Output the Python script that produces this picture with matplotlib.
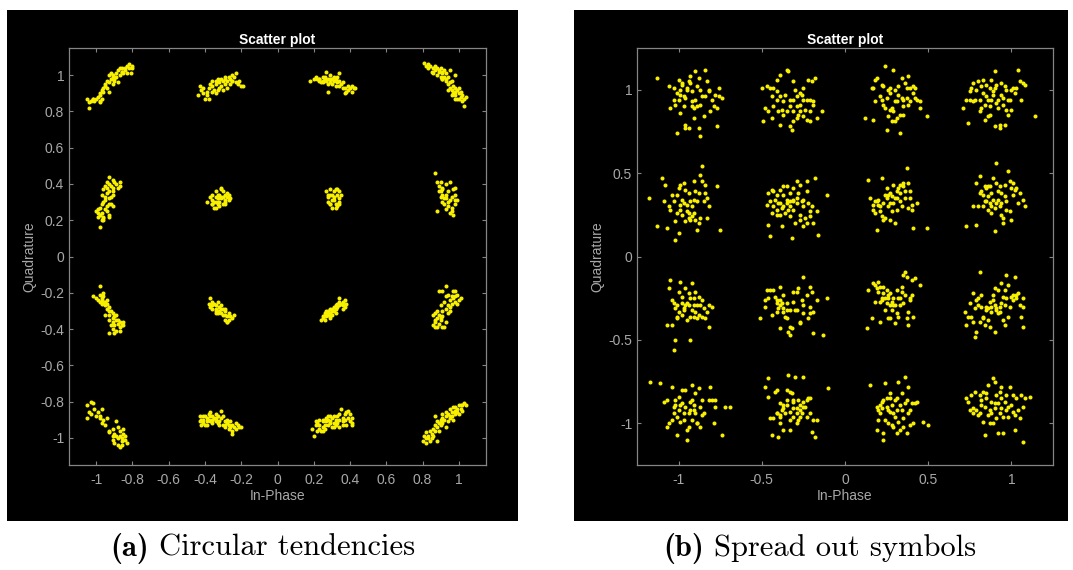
import numpy as np
import matplotlib.pyplot as plt
from matplotlib.patches import Rectangle
from matplotlib.offsetbox import TextArea, HPacker, AnchoredOffsetbox

plt.rcParams['font.family'] = ['Liberation Sans', 'DejaVu Sans']
plt.rcParams['axes.unicode_minus'] = False

# panel (a) "circular tendencies": received symbols, (In-Phase, Quadrature), one list per row
a_row1 = [
    # around (-1, 1)
    (-1.04, 0.82), (-1.05, 0.87), (-1.03, 0.86), (-1.02, 0.87), (-1.01, 0.86), (-0.99, 0.88), (-0.98, 0.86),
    (-0.98, 0.89), (-0.97, 0.87), (-0.98, 0.90), (-0.97, 0.92), (-0.96, 0.91), (-0.95, 0.94), (-0.94, 0.93),
    (-0.93, 0.96), (-0.93, 0.91), (-0.92, 0.98), (-0.91, 0.95), (-0.91, 0.99), (-0.90, 0.98), (-0.90, 0.97),
    (-0.89, 1.01), (-0.89, 0.99), (-0.88, 0.96), (-0.87, 1.00), (-0.87, 1.04), (-0.86, 1.02), (-0.86, 1.04),
    (-0.85, 1.01), (-0.84, 1.04), (-0.84, 1.03), (-0.83, 1.05), (-0.82, 1.06), (-0.82, 1.04), (-0.81, 1.01),
    (-0.80, 1.05), (-0.80, 1.04), (-0.93, 1.00), (-0.94, 0.97), (-0.95, 0.95), (-1.00, 0.87), (-1.02, 0.87),
    (-1.04, 0.85), (-0.98, 0.85), (-0.96, 0.93), (-0.92, 1.01), (-0.91, 1.00), (-0.88, 1.03), (-0.86, 1.02),
    (-0.83, 1.01),
    # around (-0.3, 1)
    (-0.44, 0.89), (-0.43, 0.94), (-0.42, 0.92), (-0.41, 0.93), (-0.40, 0.87), (-0.39, 0.91), (-0.38, 0.87),
    (-0.38, 0.93), (-0.37, 0.95), (-0.36, 0.91), (-0.36, 0.94), (-0.35, 0.92), (-0.34, 0.97), (-0.34, 0.95),
    (-0.33, 0.92), (-0.33, 0.98), (-0.32, 0.96), (-0.31, 0.98), (-0.31, 0.94), (-0.30, 0.97), (-0.30, 0.92),
    (-0.29, 0.99), (-0.29, 0.95), (-0.29, 0.98), (-0.28, 0.97), (-0.27, 0.99), (-0.26, 0.95), (-0.26, 0.98),
    (-0.25, 1.00), (-0.25, 0.97), (-0.24, 0.99), (-0.23, 1.01), (-0.23, 0.96), (-0.22, 0.95), (-0.21, 0.97),
    (-0.20, 0.94), (-0.19, 0.94), (-0.41, 0.90), (-0.39, 0.89), (-0.36, 0.97), (-0.28, 0.93), (-0.25, 0.97),
    (-0.34, 0.90), (-0.32, 0.93),
    # around (0.3, 1)
    (0.18, 0.97), (0.20, 0.98), (0.22, 0.98), (0.23, 0.97), (0.23, 0.98), (0.24, 0.96), (0.25, 0.99),
    (0.25, 0.97), (0.26, 0.98), (0.26, 0.99), (0.27, 1.02), (0.27, 0.97), (0.28, 0.91), (0.28, 0.98),
    (0.29, 1.00), (0.29, 0.96), (0.29, 0.98), (0.30, 0.98), (0.30, 0.95), (0.31, 0.99), (0.31, 0.97),
    (0.32, 0.94), (0.32, 0.98), (0.33, 0.96), (0.33, 0.99), (0.34, 0.94), (0.34, 1.01), (0.34, 0.97),
    (0.35, 0.95), (0.36, 0.93), (0.36, 0.96), (0.37, 0.90), (0.37, 0.93), (0.38, 0.91), (0.39, 0.94),
    (0.39, 0.92), (0.40, 0.93), (0.41, 0.91), (0.41, 0.94), (0.42, 0.93), (0.43, 0.93), (0.25, 0.96),
    (0.28, 0.95), (0.30, 0.98), (0.26, 0.98), (0.23, 0.98), (0.21, 0.99),
    # around (1, 1)
    (0.81, 1.07), (0.82, 1.05), (0.83, 1.06), (0.83, 1.04), (0.84, 1.05), (0.85, 1.02), (0.86, 1.04),
    (0.86, 1.01), (0.87, 1.05), (0.87, 1.03), (0.88, 1.04), (0.88, 1.00), (0.89, 1.03), (0.89, 1.02),
    (0.90, 0.99), (0.90, 1.04), (0.91, 1.01), (0.91, 0.98), (0.91, 1.02), (0.92, 0.99), (0.93, 0.97),
    (0.93, 1.01), (0.93, 0.98), (0.94, 0.95), (0.94, 0.99), (0.95, 0.96), (0.95, 0.93), (0.96, 0.97),
    (0.96, 0.92), (0.97, 0.94), (0.97, 0.90), (0.98, 1.00), (0.98, 0.93), (0.98, 0.89), (0.98, 0.91),
    (0.99, 0.87), (0.99, 0.92), (1.00, 0.87), (1.00, 0.90), (1.01, 0.88), (1.01, 0.91), (1.02, 0.86),
    (1.02, 0.89), (1.03, 0.83), (1.03, 0.87), (1.04, 0.88), (0.95, 1.03), (0.92, 1.03), (0.96, 0.89),
    (0.98, 0.87), (1.00, 0.93), (0.94, 0.92), (0.91, 0.98),
]
a_row2 = [
    (-0.98, 0.16), (-0.99, 0.24), (-1.00, 0.25), (-0.99, 0.22), (-0.98, 0.27), (-0.97, 0.29), (-0.97, 0.24),
    (-0.96, 0.21), (-0.96, 0.20), (-0.95, 0.26), (-0.96, 0.30), (-0.95, 0.31), (-0.94, 0.28), (-0.94, 0.25),
    (-0.93, 0.23), (-0.93, 0.29), (-0.93, 0.22), (-0.92, 0.29), (-0.91, 0.28), (-0.91, 0.34), (-0.97, 0.34),
    (-0.96, 0.37), (-0.95, 0.39), (-0.94, 0.38), (-0.94, 0.35), (-0.93, 0.40), (-0.93, 0.44), (-0.93, 0.36),
    (-0.92, 0.39), (-0.91, 0.36), (-0.91, 0.42), (-0.91, 0.38), (-0.90, 0.41), (-0.89, 0.40), (-0.88, 0.38),
    (-0.87, 0.41), (-0.87, 0.39), (-0.95, 0.33), (-0.98, 0.23), (-0.99, 0.26), (-0.93, 0.32), (-0.92, 0.33),
    (-0.94, 0.41), (-0.96, 0.22), (-0.97, 0.20),
    (-0.39, 0.30), (-0.37, 0.33), (-0.36, 0.29), (-0.36, 0.34), (-0.36, 0.31), (-0.35, 0.27), (-0.34, 0.33),
    (-0.34, 0.30), (-0.34, 0.36), (-0.33, 0.29), (-0.33, 0.32), (-0.32, 0.34), (-0.32, 0.30), (-0.31, 0.37),
    (-0.31, 0.33), (-0.30, 0.29), (-0.30, 0.36), (-0.29, 0.31), (-0.29, 0.34), (-0.29, 0.30), (-0.28, 0.33),
    (-0.28, 0.35), (-0.27, 0.31), (-0.27, 0.34), (-0.26, 0.32), (-0.34, 0.27), (-0.32, 0.28), (-0.31, 0.38),
    (-0.33, 0.34), (-0.35, 0.30), (-0.29, 0.29), (-0.31, 0.32), (-0.36, 0.29), (-0.30, 0.33), (-0.33, 0.30),
    (0.27, 0.36), (0.28, 0.33), (0.28, 0.30), (0.29, 0.37), (0.29, 0.29), (0.29, 0.34), (0.30, 0.31),
    (0.30, 0.27), (0.31, 0.36), (0.31, 0.33), (0.32, 0.29), (0.32, 0.37), (0.33, 0.34), (0.33, 0.28),
    (0.34, 0.32), (0.34, 0.36), (0.34, 0.30), (0.35, 0.34), (0.32, 0.27), (0.30, 0.34), (0.31, 0.31),
    (0.33, 0.37), (0.28, 0.34), (0.29, 0.29), (0.34, 0.29),
    (0.87, 0.46), (0.88, 0.25), (0.88, 0.41), (0.89, 0.39), (0.89, 0.36), (0.90, 0.33), (0.90, 0.41),
    (0.91, 0.30), (0.91, 0.37), (0.91, 0.34), (0.92, 0.29), (0.93, 0.40), (0.93, 0.32), (0.93, 0.26),
    (0.94, 0.36), (0.94, 0.30), (0.95, 0.41), (0.95, 0.24), (0.96, 0.33), (0.96, 0.27), (0.97, 0.37),
    (0.97, 0.23), (0.98, 0.31), (0.98, 0.34), (0.98, 0.29), (0.99, 0.31), (0.93, 0.34), (0.91, 0.38),
    (0.94, 0.28), (0.96, 0.25), (0.98, 0.38), (0.95, 0.31), (0.90, 0.36), (0.92, 0.32),
]
a_row3 = [
    (-1.02, -0.22), (-1.00, -0.23), (-0.99, -0.24), (-0.98, -0.21), (-0.98, -0.16), (-0.98, -0.25), (-0.97, -0.23),
    (-0.97, -0.26), (-0.96, -0.20), (-0.96, -0.22), (-0.95, -0.27), (-0.95, -0.25), (-0.94, -0.29), (-0.94, -0.26),
    (-0.93, -0.30), (-0.93, -0.28), (-0.93, -0.32), (-0.92, -0.30), (-0.91, -0.31), (-0.91, -0.34), (-0.91, -0.36),
    (-0.90, -0.33), (-0.90, -0.38), (-0.89, -0.35), (-0.89, -0.41), (-0.88, -0.37), (-0.88, -0.35), (-0.87, -0.39),
    (-0.87, -0.41), (-0.87, -0.36), (-0.86, -0.38), (-0.85, -0.36), (-0.85, -0.38), (-0.93, -0.42), (-0.90, -0.42),
    (-0.91, -0.40), (-0.93, -0.35), (-0.95, -0.32), (-0.96, -0.25), (-0.94, -0.24), (-0.97, -0.24), (-0.92, -0.38),
    (-0.89, -0.32),
    (-0.38, -0.26), (-0.37, -0.23), (-0.37, -0.28), (-0.36, -0.25), (-0.36, -0.29), (-0.35, -0.26), (-0.34, -0.30),
    (-0.34, -0.27), (-0.34, -0.29), (-0.33, -0.25), (-0.33, -0.31), (-0.32, -0.28), (-0.32, -0.30), (-0.31, -0.27),
    (-0.31, -0.31), (-0.30, -0.29), (-0.30, -0.32), (-0.29, -0.30), (-0.29, -0.35), (-0.29, -0.32), (-0.28, -0.36),
    (-0.28, -0.33), (-0.27, -0.35), (-0.27, -0.31), (-0.26, -0.33), (-0.25, -0.34), (-0.24, -0.32), (-0.31, -0.29),
    (-0.33, -0.30), (-0.36, -0.27), (-0.29, -0.29), (-0.28, -0.36), (-0.34, -0.31),
    (0.24, -0.35), (0.25, -0.34), (0.25, -0.33), (0.26, -0.35), (0.26, -0.31), (0.27, -0.33), (0.27, -0.30),
    (0.28, -0.32), (0.28, -0.31), (0.29, -0.34), (0.29, -0.29), (0.29, -0.31), (0.30, -0.30), (0.30, -0.32),
    (0.31, -0.28), (0.31, -0.30), (0.32, -0.27), (0.32, -0.29), (0.33, -0.26), (0.33, -0.28), (0.34, -0.25),
    (0.34, -0.27), (0.34, -0.23), (0.35, -0.26), (0.36, -0.25), (0.36, -0.29), (0.36, -0.27), (0.37, -0.24),
    (0.37, -0.28), (0.38, -0.26), (0.28, -0.30), (0.30, -0.29), (0.26, -0.32), (0.32, -0.31), (0.29, -0.33),
    (0.86, -0.38), (0.86, -0.32), (0.87, -0.36), (0.87, -0.31), (0.87, -0.39), (0.88, -0.34), (0.88, -0.30),
    (0.89, -0.37), (0.89, -0.32), (0.90, -0.35), (0.90, -0.27), (0.91, -0.39), (0.91, -0.30), (0.91, -0.33),
    (0.92, -0.25), (0.93, -0.29), (0.93, -0.36), (0.93, -0.22), (0.94, -0.27), (0.94, -0.21), (0.95, -0.24),
    (0.95, -0.30), (0.96, -0.22), (0.96, -0.26), (0.97, -0.19), (0.97, -0.23), (0.98, -0.25), (0.98, -0.19),
    (0.98, -0.22), (0.99, -0.26), (0.99, -0.21), (1.00, -0.24), (1.01, -0.23), (0.89, -0.19), (0.93, -0.16),
    (0.91, -0.19), (0.95, -0.28), (0.90, -0.34), (0.87, -0.35), (0.94, -0.31), (0.92, -0.39), (0.88, -0.39),
]
a_row4 = [
    (-1.05, -0.89), (-1.05, -0.82), (-1.04, -0.86), (-1.03, -0.80), (-1.03, -0.87), (-1.02, -0.81), (-1.01, -0.84),
    (-1.00, -0.88), (-0.99, -0.86), (-0.98, -0.88), (-0.98, -0.89), (-0.97, -0.84), (-0.97, -0.92), (-0.96, -0.90),
    (-0.95, -0.93), (-0.94, -0.89), (-0.93, -0.96), (-0.93, -0.97), (-0.91, -0.99), (-0.91, -0.95), (-0.91, -1.01),
    (-0.90, -0.98), (-0.90, -1.03), (-0.89, -0.91), (-0.89, -0.99), (-0.88, -0.94), (-0.88, -1.04), (-0.87, -0.99),
    (-0.87, -0.96), (-0.87, -1.05), (-0.86, -1.00), (-0.86, -1.02), (-0.85, -0.98), (-0.85, -0.95), (-0.84, -1.01),
    (-0.84, -0.99), (-0.83, -1.03), (-0.86, -1.04), (-0.88, -1.00),
    (-0.43, -0.91), (-0.43, -0.88), (-0.42, -0.93), (-0.42, -0.90), (-0.41, -0.88), (-0.41, -0.92), (-0.41, -0.90),
    (-0.40, -0.88), (-0.40, -0.93), (-0.39, -0.89), (-0.39, -0.91), (-0.38, -0.87), (-0.38, -0.90), (-0.37, -0.88),
    (-0.37, -0.86), (-0.36, -0.90), (-0.36, -0.88), (-0.36, -0.92), (-0.35, -0.89), (-0.34, -0.91), (-0.34, -0.87),
    (-0.34, -0.89), (-0.33, -0.92), (-0.33, -0.88), (-0.32, -0.93), (-0.32, -0.91), (-0.31, -0.85), (-0.31, -0.89),
    (-0.30, -0.93), (-0.30, -0.88), (-0.29, -0.94), (-0.29, -0.91), (-0.29, -0.93), (-0.28, -0.90), (-0.28, -0.92),
    (-0.27, -0.95), (-0.27, -0.93), (-0.26, -0.91), (-0.26, -0.94), (-0.25, -0.93), (-0.25, -0.96), (-0.25, -0.98),
    (-0.24, -0.94), (-0.23, -0.92), (-0.23, -0.95), (-0.22, -0.93), (-0.21, -0.94), (-0.20, -0.94), (-0.39, -0.93),
    (-0.37, -0.91), (-0.34, -0.90),
    (0.19, -0.95), (0.20, -0.99), (0.21, -0.91), (0.21, -0.93), (0.22, -0.96), (0.22, -0.92), (0.23, -0.95),
    (0.23, -0.90), (0.23, -0.93), (0.24, -0.96), (0.25, -0.91), (0.25, -0.94), (0.25, -0.90), (0.26, -0.93),
    (0.26, -0.95), (0.27, -0.91), (0.27, -0.89), (0.28, -0.93), (0.28, -0.90), (0.29, -0.92), (0.29, -0.88),
    (0.29, -0.91), (0.30, -0.94), (0.30, -0.89), (0.31, -0.92), (0.31, -0.88), (0.32, -0.93), (0.32, -0.90),
    (0.33, -0.88), (0.33, -0.92), (0.34, -0.90), (0.34, -0.94), (0.34, -0.87), (0.35, -0.84), (0.36, -0.91),
    (0.36, -0.89), (0.36, -0.93), (0.37, -0.87), (0.37, -0.90), (0.38, -0.86), (0.38, -0.93), (0.39, -0.89),
    (0.39, -0.85), (0.40, -0.91), (0.40, -0.87), (0.41, -0.93), (0.41, -0.89), (0.41, -0.92), (0.25, -0.96),
    (0.28, -0.88), (0.31, -0.94),
    (0.80, -1.02), (0.81, -0.99), (0.82, -0.97), (0.82, -1.03), (0.83, -1.00), (0.83, -0.99), (0.84, -0.96),
    (0.85, -1.00), (0.85, -0.98), (0.86, -0.95), (0.86, -0.99), (0.87, -0.93), (0.87, -0.96), (0.87, -0.88),
    (0.88, -0.94), (0.88, -1.02), (0.89, -0.92), (0.89, -0.96), (0.90, -0.90), (0.90, -0.93), (0.91, -0.89),
    (0.91, -0.92), (0.91, -0.87), (0.92, -0.90), (0.93, -0.86), (0.93, -0.94), (0.93, -0.88), (0.94, -0.87),
    (0.94, -0.91), (0.95, -0.84), (0.95, -0.89), (0.96, -0.86), (0.96, -0.88), (0.97, -0.83), (0.97, -0.90),
    (0.98, -0.85), (0.98, -0.87), (0.98, -0.83), (0.99, -0.86), (0.99, -0.84), (1.00, -0.82), (1.00, -0.87),
    (1.01, -0.84), (1.01, -0.82), (1.02, -0.85), (1.02, -0.82), (1.03, -0.81), (1.04, -0.82), (0.82, -1.00),
    (0.84, -1.02), (0.88, -0.91), (0.95, -0.88),
]

# panel (b) "spread out symbols"
b_row1 = [
    (-1.13, 1.07), (-1.06, 1.02), (-1.05, 0.89), (-1.03, 1.01), (-1.03, 0.94), (-1.02, 0.91), (-1.01, 0.98),
    (-1.01, 0.74), (-1.00, 1.06), (-1.00, 0.94), (-0.99, 1.00), (-0.99, 0.86), (-0.98, 1.04), (-0.98, 1.03),
    (-0.97, 0.90), (-0.97, 0.96), (-0.96, 0.79), (-0.96, 0.95), (-0.95, 1.01), (-0.95, 1.00), (-0.94, 0.77),
    (-0.94, 1.05), (-0.93, 1.04), (-0.93, 1.08), (-0.92, 0.93), (-0.92, 0.90), (-0.91, 0.89), (-0.91, 0.83),
    (-0.90, 1.11), (-0.90, 0.94), (-0.89, 0.90), (-0.88, 0.77), (-0.88, 1.07), (-0.87, 0.72), (-0.87, 0.91),
    (-0.86, 0.96), (-0.85, 0.84), (-0.84, 1.12), (-0.84, 0.96), (-0.83, 1.05), (-0.82, 0.99), (-0.82, 1.00),
    (-0.81, 0.87), (-0.80, 0.94), (-0.79, 0.90), (-0.78, 0.97), (-0.77, 0.78), (-0.77, 0.89), (-0.76, 1.01),
    (-0.76, 0.96), (-0.74, 0.95), (-0.96, 0.77), (-0.92, 0.99), (-0.99, 0.97), (-0.89, 1.02), (-0.87, 1.00),
    (-0.50, 1.01), (-0.49, 0.81), (-0.48, 0.89), (-0.47, 1.02), (-0.46, 0.87), (-0.45, 1.01), (-0.44, 0.83),
    (-0.44, 0.96), (-0.43, 0.90), (-0.41, 1.06), (-0.41, 0.99), (-0.41, 0.94), (-0.40, 0.87), (-0.39, 1.09),
    (-0.39, 0.79), (-0.38, 0.88), (-0.37, 0.93), (-0.37, 0.85), (-0.36, 0.97), (-0.35, 1.12), (-0.35, 0.87),
    (-0.34, 1.11), (-0.33, 0.90), (-0.33, 0.78), (-0.33, 0.94), (-0.32, 0.76), (-0.31, 0.81), (-0.31, 0.94),
    (-0.31, 1.05), (-0.30, 1.00), (-0.29, 0.90), (-0.29, 0.96), (-0.29, 0.83), (-0.28, 0.85), (-0.27, 0.98),
    (-0.27, 0.91), (-0.27, 0.87), (-0.26, 0.97), (-0.25, 0.84), (-0.25, 0.94), (-0.24, 0.88), (-0.23, 0.94),
    (-0.23, 0.82), (-0.22, 1.06), (-0.21, 0.87), (-0.21, 0.94), (-0.21, 0.81), (-0.20, 1.05), (-0.19, 0.93),
    (-0.19, 0.91), (-0.18, 1.07), (-0.17, 0.83), (-0.14, 0.87), (-0.43, 1.01), (-0.39, 0.96), (-0.31, 0.87),
    (-0.25, 1.01),
    (0.12, 0.83), (0.16, 1.01), (0.17, 1.01), (0.17, 0.82), (0.18, 1.06), (0.18, 0.93), (0.19, 1.07),
    (0.22, 1.03), (0.22, 0.94), (0.23, 1.02), (0.23, 0.91), (0.24, 0.89), (0.24, 1.14), (0.25, 0.76),
    (0.25, 0.95), (0.26, 0.84), (0.26, 1.00), (0.27, 1.01), (0.27, 0.88), (0.28, 0.81), (0.28, 0.89),
    (0.29, 0.87), (0.29, 1.12), (0.30, 0.81), (0.30, 1.00), (0.31, 0.83), (0.31, 0.93), (0.32, 1.02),
    (0.32, 0.97), (0.33, 0.74), (0.33, 0.85), (0.34, 1.07), (0.34, 0.95), (0.35, 0.94), (0.35, 0.90),
    (0.36, 1.04), (0.37, 1.01), (0.37, 0.95), (0.38, 0.91), (0.38, 1.08), (0.39, 1.01), (0.39, 0.93),
    (0.41, 0.98), (0.42, 1.01), (0.42, 0.95), (0.43, 0.94), (0.45, 0.89), (0.45, 0.93), (0.49, 0.84),
    (0.21, 0.96), (0.27, 0.98), (0.30, 0.93), (0.35, 0.85), (0.41, 1.02),
    (0.71, 0.89), (0.73, 0.94), (0.74, 0.80), (0.75, 0.99), (0.75, 0.94), (0.76, 1.01), (0.77, 0.93),
    (0.77, 1.04), (0.78, 0.94), (0.79, 1.00), (0.80, 1.05), (0.81, 0.94), (0.81, 0.87), (0.82, 1.02),
    (0.83, 0.98), (0.83, 1.06), (0.84, 0.91), (0.84, 0.82), (0.85, 1.03), (0.85, 0.96), (0.86, 0.84),
    (0.86, 0.94), (0.87, 1.01), (0.87, 0.90), (0.88, 1.06), (0.88, 0.94), (0.89, 0.99), (0.89, 0.97),
    (0.90, 0.78), (0.90, 1.11), (0.91, 0.92), (0.91, 1.03), (0.92, 0.89), (0.92, 0.94), (0.93, 0.79),
    (0.93, 0.77), (0.94, 0.97), (0.94, 1.04), (0.95, 0.91), (0.95, 0.95), (0.96, 1.02), (0.96, 0.79),
    (0.97, 0.88), (0.97, 1.00), (0.98, 0.85), (0.99, 0.94), (1.00, 1.00), (1.00, 0.88), (1.01, 1.01),
    (1.02, 0.98), (1.03, 1.01), (1.04, 1.12), (1.05, 1.05), (1.06, 0.94), (1.07, 1.04), (1.08, 1.03),
    (1.14, 0.84), (0.82, 0.89), (0.90, 1.01), (0.98, 0.94), (0.87, 0.85),
]
b_row2 = [
    (-1.18, 0.35), (-1.13, 0.18), (-1.10, 0.47), (-1.09, 0.33), (-1.08, 0.43), (-1.07, 0.17), (-1.06, 0.30),
    (-1.05, 0.28), (-1.04, 0.37), (-1.03, 0.33), (-1.02, 0.21), (-1.02, 0.10), (-1.01, 0.37), (-1.01, 0.26),
    (-1.00, 0.41), (-1.00, 0.14), (-0.99, 0.43), (-0.99, 0.28), (-0.98, 0.34), (-0.98, 0.25), (-0.97, 0.44),
    (-0.97, 0.32), (-0.96, 0.21), (-0.96, 0.40), (-0.95, 0.27), (-0.95, 0.31), (-0.94, 0.38), (-0.94, 0.23),
    (-0.93, 0.33), (-0.93, 0.22), (-0.92, 0.30), (-0.92, 0.24), (-0.91, 0.45), (-0.91, 0.26), (-0.90, 0.39),
    (-0.90, 0.22), (-0.89, 0.16), (-0.89, 0.33), (-0.88, 0.20), (-0.88, 0.38), (-0.87, 0.49), (-0.87, 0.23),
    (-0.86, 0.54), (-0.86, 0.45), (-0.85, 0.33), (-0.84, 0.43), (-0.84, 0.38), (-0.83, 0.35), (-0.83, 0.23),
    (-0.82, 0.30), (-0.77, 0.42), (-0.75, 0.16), (-0.99, 0.31), (-0.91, 0.34), (-0.94, 0.26),
    (-0.47, 0.31), (-0.46, 0.38), (-0.46, 0.19), (-0.45, 0.33), (-0.45, 0.12), (-0.44, 0.26), (-0.44, 0.40),
    (-0.43, 0.30), (-0.43, 0.39), (-0.42, 0.34), (-0.41, 0.25), (-0.41, 0.37), (-0.41, 0.28), (-0.40, 0.32),
    (-0.39, 0.25), (-0.39, 0.40), (-0.39, 0.32), (-0.38, 0.18), (-0.37, 0.37), (-0.37, 0.42), (-0.37, 0.30),
    (-0.36, 0.26), (-0.35, 0.34), (-0.35, 0.42), (-0.35, 0.32), (-0.34, 0.28), (-0.33, 0.30), (-0.33, 0.38),
    (-0.33, 0.33), (-0.32, 0.11), (-0.31, 0.34), (-0.31, 0.41), (-0.31, 0.28), (-0.30, 0.20), (-0.29, 0.45),
    (-0.29, 0.32), (-0.29, 0.35), (-0.28, 0.38), (-0.27, 0.25), (-0.27, 0.43), (-0.27, 0.22), (-0.26, 0.33),
    (-0.25, 0.18), (-0.25, 0.30), (-0.24, 0.23), (-0.23, 0.20), (-0.23, 0.45), (-0.23, 0.39), (-0.22, 0.32),
    (-0.21, 0.27), (-0.21, 0.24), (-0.20, 0.30), (-0.19, 0.20), (-0.18, 0.47), (-0.17, 0.27), (-0.16, 0.13),
    (-0.11, 0.37), (-0.38, 0.29), (-0.31, 0.33), (-0.33, 0.24), (-0.25, 0.34),
    (0.14, 0.46), (0.15, 0.35), (0.17, 0.28), (0.18, 0.33), (0.18, 0.26), (0.19, 0.33), (0.19, 0.16),
    (0.20, 0.31), (0.20, 0.34), (0.21, 0.27), (0.21, 0.30), (0.22, 0.47), (0.23, 0.22), (0.23, 0.32),
    (0.24, 0.23), (0.24, 0.37), (0.25, 0.41), (0.25, 0.35), (0.26, 0.30), (0.26, 0.37), (0.27, 0.32),
    (0.27, 0.38), (0.28, 0.27), (0.28, 0.36), (0.29, 0.43), (0.29, 0.32), (0.30, 0.35), (0.30, 0.20),
    (0.31, 0.39), (0.31, 0.35), (0.32, 0.41), (0.33, 0.43), (0.33, 0.33), (0.34, 0.30), (0.35, 0.44),
    (0.35, 0.42), (0.36, 0.35), (0.36, 0.39), (0.37, 0.53), (0.38, 0.44), (0.38, 0.29), (0.39, 0.39),
    (0.39, 0.35), (0.40, 0.31), (0.40, 0.28), (0.41, 0.17), (0.43, 0.32), (0.49, 0.17), (0.22, 0.24),
    (0.27, 0.22), (0.31, 0.28), (0.17, 0.31), (0.33, 0.38),
    (0.73, 0.18), (0.77, 0.30), (0.79, 0.44), (0.79, 0.19), (0.80, 0.30), (0.81, 0.48), (0.81, 0.38),
    (0.82, 0.39), (0.83, 0.30), (0.83, 0.37), (0.84, 0.42), (0.84, 0.33), (0.85, 0.41), (0.85, 0.33),
    (0.86, 0.42), (0.86, 0.36), (0.87, 0.32), (0.87, 0.42), (0.88, 0.38), (0.88, 0.30), (0.89, 0.47),
    (0.89, 0.34), (0.90, 0.29), (0.90, 0.15), (0.91, 0.32), (0.91, 0.56), (0.92, 0.39), (0.92, 0.34),
    (0.93, 0.42), (0.93, 0.30), (0.94, 0.25), (0.94, 0.38), (0.95, 0.20), (0.95, 0.23), (0.96, 0.36),
    (0.96, 0.43), (0.97, 0.33), (0.97, 0.28), (0.98, 0.51), (0.99, 0.45), (0.99, 0.27), (1.00, 0.22),
    (1.00, 0.41), (1.01, 0.37), (1.01, 0.44), (1.02, 0.40), (1.03, 0.41), (1.04, 0.32), (1.05, 0.38),
    (1.07, 0.34), (1.08, 0.30), (0.86, 0.28), (0.91, 0.44), (0.94, 0.32), (0.88, 0.26),
]
b_row3 = [
    (-1.07, -0.41), (-1.06, -0.19), (-1.05, -0.14), (-1.04, -0.26), (-1.04, -0.41), (-1.03, -0.56), (-1.03, -0.28),
    (-1.02, -0.31), (-1.02, -0.50), (-1.01, -0.36), (-1.01, -0.37), (-1.00, -0.33), (-1.00, -0.21), (-0.99, -0.15),
    (-0.98, -0.28), (-0.98, -0.24), (-0.97, -0.31), (-0.97, -0.32), (-0.96, -0.29), (-0.96, -0.19), (-0.95, -0.38),
    (-0.95, -0.28), (-0.94, -0.22), (-0.94, -0.29), (-0.93, -0.36), (-0.93, -0.50), (-0.92, -0.32), (-0.92, -0.16),
    (-0.91, -0.25), (-0.91, -0.36), (-0.90, -0.33), (-0.90, -0.21), (-0.89, -0.37), (-0.89, -0.29), (-0.88, -0.24),
    (-0.88, -0.35), (-0.87, -0.29), (-0.86, -0.36), (-0.86, -0.26), (-0.85, -0.31), (-0.84, -0.37), (-0.83, -0.33),
    (-0.82, -0.42), (-0.82, -0.29), (-0.80, -0.30), (-1.01, -0.29), (-0.98, -0.35), (-0.91, -0.29), (-0.93, -0.25),
    (-0.51, -0.37), (-0.48, -0.30), (-0.48, -0.26), (-0.47, -0.20), (-0.46, -0.25), (-0.45, -0.20), (-0.44, -0.35),
    (-0.43, -0.20), (-0.42, -0.24), (-0.41, -0.28), (-0.41, -0.26), (-0.40, -0.31), (-0.39, -0.43), (-0.39, -0.18),
    (-0.39, -0.26), (-0.38, -0.28), (-0.37, -0.23), (-0.37, -0.31), (-0.37, -0.33), (-0.36, -0.36), (-0.35, -0.32),
    (-0.35, -0.28), (-0.34, -0.45), (-0.33, -0.32), (-0.33, -0.42), (-0.33, -0.47), (-0.32, -0.43), (-0.31, -0.21),
    (-0.30, -0.32), (-0.29, -0.32), (-0.29, -0.21), (-0.28, -0.19), (-0.27, -0.39), (-0.27, -0.40), (-0.26, -0.26),
    (-0.25, -0.12), (-0.25, -0.29), (-0.23, -0.23), (-0.22, -0.37), (-0.21, -0.34), (-0.21, -0.30), (-0.21, -0.18),
    (-0.20, -0.21), (-0.19, -0.33), (-0.19, -0.46), (-0.17, -0.26), (-0.13, -0.47), (-0.11, -0.25), (-0.39, -0.29),
    (-0.31, -0.27), (-0.25, -0.34), (-0.35, -0.37), (-0.41, -0.33),
    (0.13, -0.43), (0.14, -0.20), (0.16, -0.37), (0.17, -0.16), (0.18, -0.27), (0.18, -0.17), (0.19, -0.19),
    (0.20, -0.15), (0.20, -0.21), (0.21, -0.27), (0.21, -0.18), (0.22, -0.25), (0.22, -0.26), (0.23, -0.22),
    (0.23, -0.18), (0.24, -0.25), (0.24, -0.32), (0.25, -0.28), (0.25, -0.20), (0.26, -0.25), (0.26, -0.37),
    (0.27, -0.29), (0.27, -0.22), (0.28, -0.32), (0.28, -0.27), (0.29, -0.29), (0.30, -0.40), (0.30, -0.29),
    (0.31, -0.20), (0.31, -0.34), (0.32, -0.25), (0.32, -0.36), (0.33, -0.29), (0.34, -0.18), (0.34, -0.21),
    (0.35, -0.28), (0.35, -0.11), (0.36, -0.23), (0.36, -0.09), (0.37, -0.37), (0.37, -0.12), (0.38, -0.33),
    (0.38, -0.41), (0.39, -0.25), (0.39, -0.26), (0.40, -0.14), (0.40, -0.23), (0.41, -0.36), (0.42, -0.13),
    (0.45, -0.17), (0.21, -0.39), (0.27, -0.37), (0.29, -0.25), (0.33, -0.25), (0.26, -0.23),
    (0.72, -0.33), (0.73, -0.41), (0.74, -0.36), (0.75, -0.28), (0.76, -0.36), (0.77, -0.22), (0.77, -0.39),
    (0.78, -0.48), (0.79, -0.26), (0.79, -0.45), (0.80, -0.29), (0.80, -0.25), (0.81, -0.09), (0.81, -0.39),
    (0.82, -0.30), (0.83, -0.37), (0.83, -0.36), (0.84, -0.41), (0.85, -0.32), (0.85, -0.30), (0.86, -0.38),
    (0.86, -0.31), (0.87, -0.27), (0.87, -0.42), (0.88, -0.33), (0.88, -0.30), (0.89, -0.23), (0.89, -0.26),
    (0.90, -0.45), (0.90, -0.19), (0.91, -0.32), (0.91, -0.31), (0.92, -0.34), (0.92, -0.20), (0.93, -0.30),
    (0.93, -0.33), (0.94, -0.16), (0.94, -0.28), (0.95, -0.38), (0.95, -0.24), (0.96, -0.41), (0.96, -0.20),
    (0.97, -0.25), (0.97, -0.11), (0.98, -0.17), (0.98, -0.36), (0.99, -0.30), (1.00, -0.24), (1.01, -0.23),
    (1.01, -0.26), (1.02, -0.12), (1.03, -0.23), (1.03, -0.25), (1.04, -0.22), (1.05, -0.29), (1.06, -0.36),
    (1.07, -0.25), (1.07, -0.30), (1.07, -0.42), (0.82, -0.23), (0.90, -0.29), (0.96, -0.29), (0.78, -0.31),
]
b_row4 = [
    (-1.17, -0.75), (-1.11, -0.76), (-1.09, -0.87), (-1.07, -0.86), (-1.07, -1.02), (-1.06, -1.00), (-1.04, -0.78),
    (-1.04, -0.98), (-1.03, -0.94), (-1.02, -0.89), (-1.02, -0.86), (-1.01, -1.07), (-1.01, -0.96), (-1.00, -0.84),
    (-1.00, -0.92), (-0.99, -0.99), (-0.99, -0.89), (-0.98, -0.80), (-0.98, -0.88), (-0.97, -0.94), (-0.96, -0.80),
    (-0.96, -0.90), (-0.95, -1.04), (-0.95, -1.10), (-0.94, -0.94), (-0.94, -1.02), (-0.93, -0.87), (-0.93, -0.92),
    (-0.92, -0.98), (-0.92, -0.77), (-0.91, -0.92), (-0.91, -0.89), (-0.90, -0.82), (-0.90, -0.94), (-0.89, -1.00),
    (-0.89, -1.00), (-0.88, -0.79), (-0.87, -1.02), (-0.86, -0.95), (-0.86, -0.86), (-0.85, -0.94), (-0.82, -0.86),
    (-0.81, -0.78), (-0.80, -0.86), (-0.79, -1.00), (-0.78, -0.90), (-0.78, -0.86), (-0.74, -1.07), (-0.72, -0.90),
    (-0.69, -0.90), (-1.03, -0.90), (-0.97, -0.98), (-0.92, -0.86), (-0.87, -0.90),
    (-0.48, -0.78), (-0.46, -0.84), (-0.46, -0.73), (-0.45, -0.97), (-0.44, -1.07), (-0.43, -0.97), (-0.42, -0.81),
    (-0.41, -0.94), (-0.41, -0.80), (-0.41, -0.94), (-0.40, -1.08), (-0.39, -1.00), (-0.39, -0.96), (-0.39, -0.95),
    (-0.38, -0.92), (-0.37, -1.04), (-0.37, -0.91), (-0.37, -0.89), (-0.36, -0.94), (-0.35, -0.80), (-0.35, -0.86),
    (-0.35, -0.89), (-0.34, -0.71), (-0.33, -1.04), (-0.33, -0.81), (-0.33, -0.93), (-0.32, -0.82), (-0.31, -0.87),
    (-0.31, -0.91), (-0.31, -0.96), (-0.30, -0.72), (-0.29, -1.00), (-0.29, -0.91), (-0.29, -0.94), (-0.28, -0.86),
    (-0.27, -0.89), (-0.27, -0.92), (-0.27, -0.96), (-0.26, -0.94), (-0.25, -0.90), (-0.25, -0.87), (-0.25, -0.72),
    (-0.24, -0.90), (-0.23, -0.86), (-0.23, -0.96), (-0.22, -0.85), (-0.21, -0.85), (-0.21, -0.94), (-0.20, -1.05),
    (-0.19, -0.98), (-0.18, -1.08), (-0.17, -0.98), (-0.10, -0.79), (-0.39, -0.88), (-0.33, -0.98), (-0.31, -0.86),
    (-0.28, -0.98),
    (0.15, -0.77), (0.19, -0.90), (0.19, -1.04), (0.20, -0.92), (0.20, -0.98), (0.21, -0.89), (0.21, -0.94),
    (0.22, -0.87), (0.22, -0.91), (0.23, -1.06), (0.23, -1.10), (0.24, -0.98), (0.24, -0.76), (0.25, -0.90),
    (0.25, -0.85), (0.26, -0.92), (0.26, -1.00), (0.27, -0.85), (0.27, -0.93), (0.28, -1.01), (0.28, -0.89),
    (0.29, -0.94), (0.29, -1.02), (0.30, -0.86), (0.30, -0.96), (0.31, -0.92), (0.31, -0.85), (0.32, -0.99),
    (0.32, -0.75), (0.33, -0.89), (0.33, -1.04), (0.34, -0.82), (0.34, -0.92), (0.35, -0.97), (0.35, -1.02),
    (0.36, -0.88), (0.36, -0.72), (0.37, -0.86), (0.37, -1.06), (0.38, -0.94), (0.38, -0.78), (0.39, -1.01),
    (0.40, -0.88), (0.41, -1.00), (0.42, -0.88), (0.43, -0.87), (0.47, -0.99), (0.50, -1.01), (0.27, -0.82),
    (0.31, -1.06), (0.39, -0.92), (0.23, -0.86),
    (0.73, -0.85), (0.74, -0.87), (0.75, -0.92), (0.76, -0.83), (0.77, -0.91), (0.77, -0.94), (0.78, -0.81),
    (0.79, -0.92), (0.80, -0.95), (0.81, -0.83), (0.81, -0.94), (0.82, -0.89), (0.83, -0.99), (0.83, -0.81),
    (0.84, -1.07), (0.84, -0.90), (0.85, -0.85), (0.85, -0.82), (0.86, -0.95), (0.86, -0.77), (0.87, -0.92),
    (0.87, -1.00), (0.88, -0.87), (0.88, -0.94), (0.89, -0.73), (0.89, -1.00), (0.90, -0.75), (0.90, -0.91),
    (0.91, -0.97), (0.91, -0.83), (0.92, -1.06), (0.92, -0.88), (0.93, -0.81), (0.93, -0.94), (0.94, -0.78),
    (0.94, -0.91), (0.95, -0.96), (0.95, -1.06), (0.96, -0.87), (0.97, -0.92), (0.97, -0.83), (0.98, -0.90),
    (0.99, -0.78), (1.00, -0.89), (1.01, -0.83), (1.01, -0.93), (1.02, -1.04), (1.02, -0.95), (1.03, -0.85),
    (1.04, -0.92), (1.05, -0.97), (1.06, -0.83), (1.07, -0.90), (1.07, -1.11), (1.08, -0.85), (1.11, -0.84),
    (0.82, -0.86), (0.90, -0.88), (0.98, -0.96), (0.94, -0.85),
]

a_ticks = [-1, -0.8, -0.6, -0.4, -0.2, 0, 0.2, 0.4, 0.6, 0.8, 1]
b_ticks = [-1, -0.5, 0, 0.5, 1]
a_lim = 1.15
b_lim = 1.25
caption_tags = ['(a)', '(b)']
caption_texts = ['Circular tendencies', 'Spread out symbols']

W, H = 1073, 570
fig = plt.figure(figsize=(W / 100, H / 100), dpi=100)
fig.patch.set_facecolor('white')

# black screenshot backgrounds behind each MATLAB figure
for x0, w in [(7, 511), (574, 494)]:
    fig.add_artist(Rectangle((x0 / W, 1 - 521 / H), w / W, 511 / H, transform=fig.transFigure,
                             facecolor='black', edgecolor='none', zorder=0))

grey = '#858585'
label_grey = '#a8a8a8'


def scatter_panel(rect, rows, ticks, lim):
    ax = fig.add_axes(rect)
    ax.set_facecolor('black')
    pts = np.array([p for row in rows for p in row])
    ax.plot(pts[:, 0], pts[:, 1], 'o', ms=2.9, mew=0, color='#f8f000')
    ax.set_xlim(-lim, lim)
    ax.set_ylim(-lim, lim)
    ax.set_xticks(ticks)
    ax.set_yticks(ticks)
    labels = ['%g' % t for t in ticks]
    ax.set_xticklabels(labels)
    ax.set_yticklabels(labels)
    ax.tick_params(direction='in', top=True, right=True, length=3, width=0.8, color=grey,
                   labelcolor=label_grey, labelsize=10, pad=3.5)
    ax.tick_params(axis='x', pad=6)
    for s in ax.spines.values():
        s.set_color(grey)
        s.set_linewidth(0.9)
    ax.set_title('Scatter plot', color='white', fontsize=10, fontweight='bold', pad=3)
    ax.set_xlabel('In-Phase', color=label_grey, fontsize=10, labelpad=1.5)
    ax.set_ylabel('Quadrature', color=label_grey, fontsize=10, labelpad=2.5)
    return ax


scatter_panel([69 / W, 1 - 465 / H, 417 / W, 417 / H], [a_row1, a_row2, a_row3, a_row4], a_ticks, a_lim)
scatter_panel([637 / W, 1 - 465 / H, 416 / W, 417 / H], [b_row1, b_row2, b_row3, b_row4], b_ticks, b_lim)

# sub-captions: bold tag + roman text in Computer Modern
for cx, tag, txt in zip([262.5 / W, 820 / W], caption_tags, caption_texts):
    box = HPacker(children=[TextArea(tag, textprops=dict(family='cmb10', fontsize=22)),
                            TextArea(txt, textprops=dict(family='cmr10', fontsize=22))],
                  align='baseline', pad=0, sep=7)
    fig.add_artist(AnchoredOffsetbox(loc='center', child=box, pad=0, borderpad=0, frameon=False,
                                     bbox_to_anchor=(cx, 1 - 548 / H), bbox_transform=fig.transFigure))

fig.savefig('out.png', dpi=100, facecolor='white')
